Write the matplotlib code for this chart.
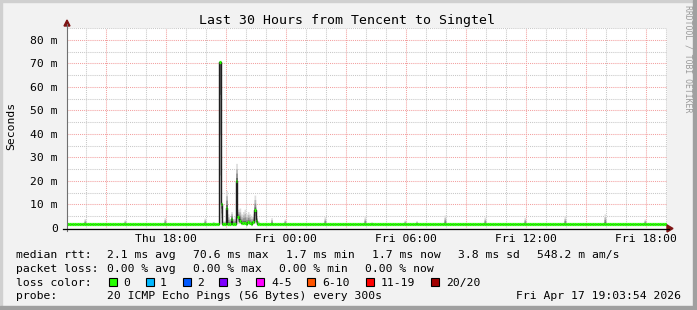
import numpy as np
import pandas as pd
import matplotlib
matplotlib.use("Agg")
import matplotlib.pyplot as plt
import matplotlib.dates as mdates
from matplotlib.patches import Rectangle, Polygon
from matplotlib.ticker import MultipleLocator, FuncFormatter

plt.rcParams['font.family'] = ['DejaVu Sans Mono']

# ---- data (ms) ----
end_time = pd.Timestamp("2026-04-17 19:03:54")
start_time = end_time - pd.Timedelta(hours=30)

baseline_ms = 1.75
smoke_floor_ms = 1.5

# 5 minute steps of the burst on Thursday evening
burst_start = "2026-04-16 20:40"
burst_median = [70.6, 10.0, 1.8, 1.8, 8.5, 1.8, 1.8, 4.0, 1.8, 1.8, 20.0, 4.8,
                3.0, 2.0, 2.2, 2.0, 1.8, 2.5, 2.0, 1.8, 2.7, 7.7, 3.0, 1.8]
burst_smoke = [70.6, 11.0, 3.0, 3.0, 16.0, 6.0, 4.0, 7.0, 4.0, 5.0, 27.5, 8.0,
               8.5, 6.0, 7.0, 8.0, 6.0, 7.0, 6.0, 5.0, 6.0, 14.0, 5.0, 3.0]

# single outlier pings
blip_times = ["2026-04-16 13:55", "2026-04-16 15:55", "2026-04-16 17:55",
              "2026-04-16 19:55", "2026-04-16 20:20", "2026-04-16 23:15",
              "2026-04-16 23:55", "2026-04-17 01:55", "2026-04-17 03:55",
              "2026-04-17 04:15", "2026-04-17 05:55", "2026-04-17 06:30",
              "2026-04-17 07:55", "2026-04-17 09:55", "2026-04-17 11:55",
              "2026-04-17 13:55", "2026-04-17 15:55", "2026-04-17 17:55"]
blip_smoke = [4.0, 3.5, 4.4, 4.2, 2.8, 4.4, 3.8, 4.8, 4.8,
              2.6, 3.4, 3.1, 5.5, 4.6, 4.5, 5.0, 6.0, 3.8]

loss_labels = ["0", "1", "2", "3", "4-5", "6-10", "11-19", "20/20"]
loss_colors = ["#26ff00", "#00b8ff", "#0059ff", "#7e00ff", "#ff00ff",
               "#ff5500", "#ff0000", "#a10000"]

# ---- build step series ----
t = pd.date_range(start_time.floor("5min"), end_time.ceil("5min"), freq="5min")
median = np.full(len(t), baseline_ms)
smoke_hi = np.full(len(t), baseline_ms)
i0 = t.get_loc(pd.Timestamp(burst_start))
median[i0:i0 + len(burst_median)] = burst_median
smoke_hi[i0:i0 + len(burst_smoke)] = burst_smoke
for bt, bv in zip(blip_times, blip_smoke):
    smoke_hi[t.get_loc(pd.Timestamp(bt))] = bv
smoke_lo = np.minimum(median, smoke_floor_ms)
smoke_lo[i0:i0 + len(burst_median)] = 2.0

x = mdates.date2num(t)
dx = 5 / 1440.0

W, H = 697, 310
fig = plt.figure(figsize=(W / 100, H / 100), dpi=100, facecolor="#f2f2f2")


def fx(px):
    return px / W


def fy(py):
    return 1 - py / H


# 3d frame
fig.patches.append(Rectangle((0, fy(2)), 1, 2 / H, transform=fig.transFigure, color="#d0d0d0", zorder=0))
fig.patches.append(Rectangle((0, 0), 2 / W, 1, transform=fig.transFigure, color="#d0d0d0", zorder=0))
fig.patches.append(Rectangle((fx(693), 0), 4 / W, 1, transform=fig.transFigure, color="#a0a0a0", zorder=0))
fig.patches.append(Rectangle((0, 0), 1, 4 / H, transform=fig.transFigure, color="#a0a0a0", zorder=0))

ax = fig.add_axes([fx(67), fy(228), 600 / W, 200 / H])
ax.set_facecolor("white")
ax.set_xlim(mdates.date2num(start_time), mdates.date2num(end_time))
ax.set_ylim(0, 85.1)

# smoke
layers = [(1.0, "#dcdcdc"), (0.7, "#b8b8b8"), (0.45, "#909090"), (0.2, "#606060")]
for frac, col in layers:
    top = median + (smoke_hi - median) * frac
    bot = median - (median - smoke_lo) * frac
    ax.fill_between(x, bot, top, step="post", color=col, lw=0, zorder=2)

# median: dark transitions, green loss-colour segments
ax.step(x, median, where="post", color="#202020", lw=1.0, zorder=3)
ax.hlines(median, x, x + dx, color=loss_colors[0], lw=2.3, zorder=4, capstyle="butt")

# grid
ax.yaxis.set_major_locator(MultipleLocator(10))
ax.yaxis.set_minor_locator(MultipleLocator(5))
ax.xaxis.set_major_locator(mdates.HourLocator(byhour=range(0, 24, 3)))
ax.xaxis.set_minor_locator(mdates.HourLocator())
ax.set_axisbelow(True)
ax.grid(which="minor", color="#c8c8c8", lw=0.75, ls=(0, (1, 1)))
ax.grid(which="major", color="#f3a0a0", lw=0.75, ls=(0, (1, 1)))


def xfmt(v, pos):
    d = mdates.num2date(v)
    return d.strftime("%a %H:%M") if d.hour % 6 == 0 else ""


ax.xaxis.set_major_formatter(FuncFormatter(xfmt))
ax.yaxis.set_major_formatter(FuncFormatter(lambda v, p: "0" if v == 0 else "%d m" % v))
ax.tick_params(which="both", length=0)
ax.tick_params(axis="x", pad=4.5, labelsize=8.2)
ax.tick_params(axis="y", pad=6.5, labelsize=8.2)
for s in ax.spines.values():
    s.set_visible(False)

# axes lines with arrows
fig.add_artist(plt.Line2D([fx(67), fx(67)], [fy(231), fy(24)], color="#707070", lw=0.8))
fig.add_artist(plt.Line2D([fx(63), fx(669)], [fy(228.5), fy(228.5)], color="black", lw=0.9))
fig.add_artist(Polygon([(fx(64), fy(26)), (fx(70), fy(26)), (fx(67), fy(20))], closed=True,
                       transform=fig.transFigure, color="#7f1515"))
fig.add_artist(Polygon([(fx(667), fy(225)), (fx(667), fy(232)), (fx(673), fy(228.5))], closed=True,
                       transform=fig.transFigure, color="#7f1515"))

fig.text(fx(347), fy(24), "Last 30 Hours from Tencent to Singtel", ha="center", va="baseline", fontsize=9.5)
fig.text(fx(11), fy(126), "Seconds", rotation=90, ha="center", va="center", fontsize=8.2)
fig.text(fx(688), fy(5), "RRDTOOL / TOBI OETIKER", rotation=270, ha="center", va="top",
         fontsize=5.9, color="#9a9a9a")

# legend
fs = 8.2
rows = [
    (258.3, [(16, "median rtt:"), (107, "2.1 ms avg"), (193, "70.6 ms max"), (286, "1.7 ms min"),
             (372, "1.7 ms now"), (458, "3.8 ms sd"), (537, "548.2 m am/s")]),
    (272.0, [(16, "packet loss:"), (107, "0.00 % avg"), (193, "0.00 % max"), (279, "0.00 % min"),
             (365, "0.00 % now")]),
    (285.7, [(16, "loss color:")]),
    (299.3, [(16, "probe:"), (107, "20 ICMP Echo Pings (56 Bytes) every 300s")]),
]
for yb, items in rows:
    for xp, s in items:
        fig.text(fx(xp), fy(yb), s, ha="left", va="baseline", fontsize=fs)
fig.text(fx(681), fy(299.3), "Fri Apr 17 19:03:54 2026", ha="right", va="baseline", fontsize=fs)

box_x = [109, 146, 183, 219, 256, 307, 366, 431]
lab_x = [123, 160, 197, 234, 271, 322, 381, 446]
for bx, lx, lab, col in zip(box_x, lab_x, loss_labels, loss_colors):
    fig.patches.append(Rectangle((fx(bx), fy(286)), 8 / W, 8 / H, transform=fig.transFigure,
                                 facecolor=col, edgecolor="black", lw=0.8))
    fig.text(fx(lx), fy(285.7), lab, ha="left", va="baseline", fontsize=fs)

fig.savefig("out.png", dpi=100, facecolor=fig.get_facecolor())
